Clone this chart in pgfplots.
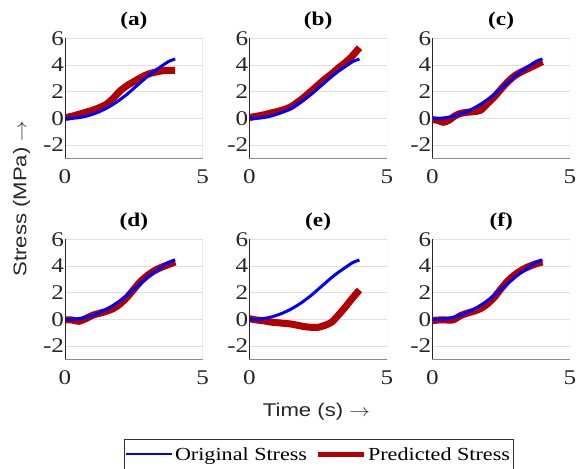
\documentclass[border=0pt]{standalone}
\usepackage{fontspec}
\setmainfont[FakeStretch=1.2]{Liberation Serif}
\setsansfont[FakeStretch=1.2]{Liberation Sans}
\usepackage{pgfplots}
\pgfplotsset{compat=1.18}

\definecolor{origblue}{RGB}{0,0,255}
\definecolor{predred}{RGB}{178,0,0}
\definecolor{txtgray}{RGB}{38,38,38}

% blue reference curve, same in every panel
\pgfplotstableread{
t s
0 0
0.25 0.0
0.5 0.05
0.75 0.15
1 0.3
1.25 0.5
1.5 0.75
1.75 1.05
2 1.4
2.25 1.8
2.5 2.25
2.75 2.7
3 3.15
3.25 3.55
3.5 3.9
3.75 4.25
4 4.45
}\orig

\pgfplotsset{
  panel/.style={
    scale only axis, width=137.7bp, height=120bp,
    anchor=south west,
    xmin=0, xmax=5, ymin=-3, ymax=6,
    xtick={0,5}, ytick={-2,0,2,4,6},
    ymajorgrids, grid style={black!12, line width=0.8pt},
    axis x line*=bottom, axis y line*=left,
    x axis line style={black!45, line width=1pt, -},
    y axis line style={black!85, line width=0.8pt, -},
    major tick length=0pt,
    xticklabel={\pgfmathprintnumber[assume math mode=true]{\tick}},
    yticklabel={\pgfmathprintnumber[assume math mode=true]{\tick}},
    tick label style={font=\rmfamily\fontsize{21}{24}\selectfont, text=txtgray},
    xticklabel style={yshift=-8bp},
    yticklabel style={xshift=2.5bp},
    title style={font=\fontsize{19.5}{22}\selectfont\bfseries, yshift=-1bp},
  },
  pred/.style={predred, line width=7bp, smooth},
  orig/.style={origblue, line width=3bp, smooth},
}

\begin{document}
\begin{tikzpicture}
\useasboundingbox (0,0) rectangle (576bp,469bp);

% (a)
\begin{axis}[panel, at={(65bp,310.7bp)}, title={(a)}]
\addplot[pred] coordinates {(0,0.05)(0.25,0.15)(0.5,0.3)(0.75,0.45)(1,0.6)(1.25,0.8)(1.5,1.05)(1.75,1.5)(2,2.05)(2.25,2.45)(2.5,2.75)(2.75,3.05)(3,3.3)(3.25,3.45)(3.5,3.55)(3.75,3.6)(4,3.6)};
\addplot[orig] table {\orig};
\draw[black!12, line width=0.8pt] (rel axis cs:1,0) -- (rel axis cs:1,1);
\end{axis}

% (b)
\begin{axis}[panel, at={(249.3bp,310.7bp)}, title={(b)}]
\addplot[pred] coordinates {(0,0.05)(0.25,0.15)(0.5,0.25)(0.75,0.38)(1,0.5)(1.25,0.65)(1.5,0.85)(1.75,1.2)(2,1.6)(2.25,2.05)(2.5,2.5)(2.75,2.95)(3,3.35)(3.25,3.8)(3.5,4.2)(3.75,4.7)(4,5.3)};
\addplot[orig] table {\orig};
\draw[black!12, line width=0.8pt] (rel axis cs:1,0) -- (rel axis cs:1,1);
\end{axis}

% (c)
\begin{axis}[panel, at={(432.3bp,310.7bp)}, title={(c)}]
\addplot[pred] coordinates {(0,-0.1)(0.2,-0.15)(0.4,-0.3)(0.6,-0.15)(0.8,0.15)(1,0.35)(1.25,0.45)(1.5,0.5)(1.75,0.6)(2,1.1)(2.25,1.6)(2.5,2.2)(2.75,2.75)(3,3.2)(3.25,3.5)(3.5,3.75)(3.75,4.0)(4,4.25)};
\addplot[orig] table {\orig};
\draw[black!12, line width=0.8pt] (rel axis cs:1,0) -- (rel axis cs:1,1);
\end{axis}

% (d)
\begin{axis}[panel, at={(65bp,109.7bp)}, title={(d)}]
\addplot[pred] coordinates {(0,-0.05)(0.25,-0.05)(0.5,-0.15)(0.75,0.05)(1,0.3)(1.25,0.45)(1.5,0.6)(1.75,0.8)(2,1.15)(2.25,1.65)(2.5,2.25)(2.75,2.85)(3,3.3)(3.25,3.65)(3.5,3.9)(3.75,4.1)(4,4.3)};
\addplot[orig] table {\orig};
\draw[black!12, line width=0.8pt] (rel axis cs:1,0) -- (rel axis cs:1,1);
\end{axis}

% (e) carries the legend
\begin{axis}[panel, at={(249.3bp,109.7bp)}, title={(e)},
  reverse legend,
  legend columns=2,
  legend style={at={(0.5025,-0.665)}, anchor=north, draw=black!80,
    font=\fontsize{18.5}{22}\selectfont, inner xsep=1pt, inner ysep=6pt,
    /tikz/every even column/.append style={column sep=6bp}},
]
\addplot[pred, legend image code/.code={\draw[predred, line width=5bp] (0bp,0bp) -- (46bp,0bp);}] coordinates {(0,0.05)(0.25,-0.05)(0.5,-0.1)(0.75,-0.2)(1,-0.25)(1.25,-0.3)(1.5,-0.35)(1.75,-0.45)(2,-0.55)(2.25,-0.6)(2.5,-0.6)(2.75,-0.45)(3,-0.2)(3.25,0.35)(3.5,0.95)(3.75,1.6)(4,2.2)};
\addlegendentry{Predicted Stress}
\addplot[orig, legend image code/.code={\draw[origblue, line width=2bp] (0bp,0bp) -- (46bp,0bp);}] table {\orig};
\addlegendentry{Original Stress}
\draw[black!12, line width=0.8pt] (rel axis cs:1,0) -- (rel axis cs:1,1);
\end{axis}

% (f)
\begin{axis}[panel, at={(432.3bp,109.7bp)}, title={(f)}]
\addplot[pred] coordinates {(0,-0.1)(0.25,-0.05)(0.5,-0.05)(0.75,-0.05)(1,0.25)(1.25,0.45)(1.5,0.6)(1.75,0.8)(2,1.15)(2.25,1.65)(2.5,2.3)(2.75,2.9)(3,3.35)(3.25,3.7)(3.5,3.95)(3.75,4.15)(4,4.3)};
\addplot[orig] table {\orig};
\draw[black!12, line width=0.8pt] (rel axis cs:1,0) -- (rel axis cs:1,1);
\end{axis}

\node[rotate=90, text=txtgray, font=\sffamily\fontsize{18.5}{21}\selectfont] at (21.7bp,270.5bp) {Stress (MPa) \scalebox{1.2}[1]{$\rightarrow$}};
\node[text=txtgray, font=\sffamily\fontsize{18.5}{21}\selectfont] at (316.5bp,57.3bp) {Time (s) \scalebox{1.2}[1]{$\rightarrow$}};
\end{tikzpicture}
\end{document}
